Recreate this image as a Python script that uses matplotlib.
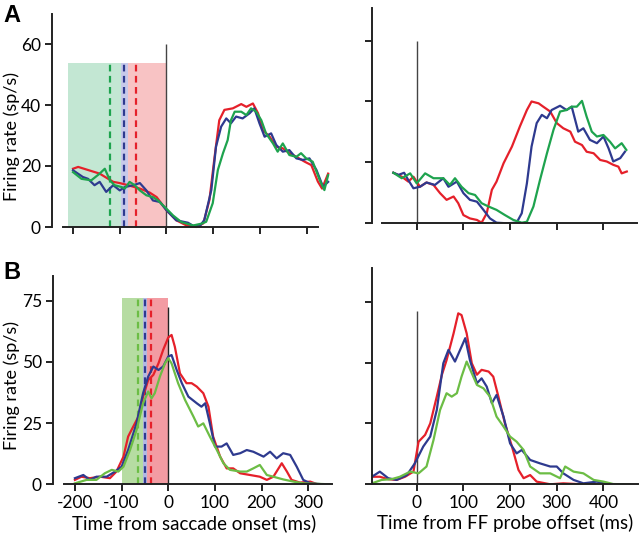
import matplotlib.pyplot as plt

plt.rcParams['font.family'] = ['Lato', 'DejaVu Sans']
plt.rcParams['axes.unicode_minus'] = False

RED = '#e5202a'
BLUE = '#2e3a8f'
GREEN_A = '#1ea34e'
GREEN_B = '#6cbd45'

# ---- panel A, aligned on saccade onset ----
a1_red_x = [-200, -189, -143, -114, -100, -82, -57, -36, -21, 0, 21, 43, 64, 79, 92, 103, 113, 124,
            142, 160, 171, 185, 196, 206, 221, 235, 249, 263, 278, 296, 310, 324, 333, 346]
a1_red_y = [19.1, 19.7, 17.5, 14.8, 14.4, 13.7, 12.6, 11.3, 9.8, 5.5, 2.2, 0.5, 0.0, 1.2, 8.9, 23, 35, 38.4,
            38.9, 40.3, 39.4, 40.5, 37.3, 31.8, 29.6, 26.3, 25.8, 24.2, 23, 21.4, 20.3, 14.9, 12.6, 17.5]
a1_blue_x = [-200, -179, -168, -154, -143, -129, -114, -100, -89, -71, -57, -43, -29, -14, 0, 21, 46, 57,
             71, 81, 96, 106, 117, 128, 138, 149, 163, 178, 188, 199, 210, 224, 235, 249, 263, 278,
             292, 306, 321, 335, 346]
a1_blue_y = [18.6, 16.4, 15.8, 13.7, 14.8, 11.5, 13.7, 12, 13.1, 13.7, 14.4, 12, 8.7, 8.2, 5.5, 2.2, 1.4, 0.4,
             0.2, 2.3, 12.1, 26.3, 32.9, 35.6, 34, 36.2, 35.6, 37.3, 38.9, 34, 29.6, 30.7, 26.9, 24.7, 25.2, 22.5,
             22, 22.5, 18.7, 13.2, 14.8]
a1_green_x = [-200, -182, -161, -143, -132, -121, -111, -96, -89, -79, -68, -57, -43, -29, -18, 0, 14, 32,
              57, 75, 85, 99, 110, 121, 131, 138, 146, 160, 171, 181, 192, 203, 213, 228, 238, 249,
              263, 278, 288, 299, 313, 328, 338, 346]
a1_green_y = [18, 15.8, 15.3, 17.5, 19.1, 15.3, 13.7, 13.1, 12.6, 14.8, 13.7, 12, 10.4, 9.8, 8.7, 6, 3.8, 1.6,
              0.5, 1.1, 1.7, 7.8, 18.7, 24.2, 28.5, 35, 37.8, 37.8, 36.7, 38.9, 37.8, 35, 30.7, 27.4, 24.7, 27.4,
              23.6, 23, 24.2, 22.5, 21.4, 15.4, 12.1, 17]

# ---- panel A, aligned on FF probe offset ----
a2_red_x = [-50, -32, -18, -7, 7, 21, 36, 50, 64, 79, 89, 100, 114, 129, 139, 150, 161, 171, 186, 204,
            221, 236, 246, 261, 271, 286, 300, 314, 329, 339, 354, 364, 379, 393, 407, 421, 432, 439, 450]
a2_red_y = [16.6, 15.3, 13.7, 15.3, 12, 13.4, 12.6, 9.9, 7.7, 8.8, 6.6, 2.7, 1.6, 1.1, 0.2, 3.3, 11, 13.7, 19.7, 25.2,
            31.8, 37.2, 40, 39.4, 38.3, 36.7, 32.9, 31.2, 30.1, 26.8, 25.7, 23.5, 23, 20.8, 20.3, 19.2, 18.6, 16.4, 17]
a2_blue_x = [-50, -39, -27, -18, -7, 7, 21, 39, 57, 68, 86, 100, 114, 129, 143, 157, 171, 193, 214, 225,
             236, 246, 257, 268, 279, 289, 307, 321, 332, 346, 357, 371, 386, 400, 411, 421, 436, 446]
a2_blue_y = [16.6, 15.9, 16.6, 14.2, 11.5, 12, 13.4, 12.6, 14.8, 12, 13.7, 9.9, 7.7, 7.1, 4.4, 1.6, 0.2, 0, 0.2, 3.3,
             13.1, 25.2, 32.9, 35.6, 34.5, 37.2, 38.6, 37.2, 38.3, 30.1, 31.2, 27.4, 26.3, 28.5, 24.6, 20.3, 21.4, 23.5]
a2_green_x = [-50, -32, -14, 0, 18, 36, 57, 71, 82, 96, 111, 125, 139, 154, 171, 189, 207, 225, 236, 250,
              264, 279, 293, 307, 321, 332, 343, 354, 364, 375, 386, 400, 414, 425, 439, 449]
a2_green_y = [16.6, 14.8, 16.4, 13.1, 16.4, 14.8, 14.8, 12.6, 14.8, 12, 9.9, 9.3, 6.6, 5.5, 4.4, 2.7, 1.1, 0.2, 0.5, 5.5,
              14.2, 23, 30.7, 36.7, 37.2, 38.3, 38.3, 40.2, 35, 30.1, 28.5, 29, 26.8, 24.6, 26.3, 24.1]

# ---- panel B, aligned on saccade onset ----
b1_red_x = [-200, -186, -168, -146, -125, -111, -96, -86, -75, -64, -54, -43, -32, -21, -11, 0, 7, 14, 25,
            39, 50, 61, 75, 86, 96, 111, 125, 139, 154, 175, 196, 211, 225, 243, 254, 264, 282, 304, 318]
b1_red_y = [1.8, 3.1, 2.5, 3.1, 2.5, 5.2, 11.3, 19.5, 23.6, 27.6, 35.8, 42.6, 44.7, 49.4, 54.9, 60, 61, 56.2, 45.3,
            41.3, 41.3, 39.9, 37.2, 31.7, 19.5, 11.3, 6.5, 6.5, 4.5, 3.8, 3.1, 1.8, 3.1, 8.6, 5.2, 1.8, 0.7, 1.1, 0.1]
b1_blue_x = [-200, -182, -168, -154, -132, -114, -100, -86, -68, -54, -43, -32, -21, -11, 0, 7, 18, 29, 43,
             61, 71, 79, 89, 100, 114, 125, 139, 154, 168, 182, 204, 218, 232, 246, 261, 275, 289, 304, 325]
b1_blue_y = [2.5, 3.8, 1.8, 3.1, 3.1, 5.2, 7.2, 14, 24.9, 37.2, 44, 48.1, 46.7, 48.1, 52.2, 52.8, 46.7, 41.3, 35.8,
             33.1, 31.7, 33.1, 24.9, 15.4, 15.4, 16.7, 12, 12.7, 14, 13.3, 11.3, 13.3, 10.6, 12.7, 12, 7.2, 1.8, 0.4, 0.1]
b1_green_x = [-200, -175, -154, -136, -121, -107, -96, -82, -68, -54, -43, -36, -29, -18, -7, 0, 7, 21, 36,
              54, 64, 75, 89, 104, 118, 132, 154, 168, 182, 196, 211, 225, 246, 268, 289, 346]
b1_green_y = [0.4, 1.8, 1.8, 4.5, 5.9, 5.2, 7.2, 14, 22.2, 33.1, 37.9, 35.1, 37.2, 44, 49.4, 51.5, 49.4, 41.3, 34.4,
              27.6, 23.6, 24.9, 19.5, 14, 8.6, 5.9, 5.2, 5.2, 6.5, 7.9, 3.8, 3.1, 2, 1.1, 0.4, 0]

# ---- panel B, aligned on FF probe offset ----
b2_red_x = [-96, -79, -61, -43, -25, -7, 4, 18, 29, 43, 54, 64, 79, 89, 96, 107, 118, 129, 139, 154, 164,
            175, 189, 204, 218, 229, 243, 257, 286, 314, 343, 386]
b2_red_y = [3.1, 3.1, 2.1, 1.8, 3.1, 5.2, 17.5, 20.3, 25, 36, 45, 51, 62, 70.2, 69.5, 62, 49.7, 45, 47, 46.3, 44.2,
            36, 25, 15.5, 5.9, 2.5, 3.8, 1.1, 0, 0.4, 0.1, 0]
b2_blue_x = [-96, -79, -61, -43, -21, -4, 14, 29, 43, 57, 68, 82, 96, 104, 114, 129, 139, 150, 161, 171,
             186, 200, 214, 225, 243, 264, 286, 300, 314, 336, 357, 386, 407, 443]
b2_blue_y = [3.1, 5.2, 2.5, 1.8, 3.8, 8.6, 15.5, 19.6, 30.5, 49.7, 55.2, 50.4, 56.5, 60, 51, 41.5, 43.5, 40.1, 33.3,
             36.7, 27.8, 16.8, 12.7, 14.1, 10, 8.6, 7.3, 7.3, 4.5, 1.8, 0.4, 1.1, 0.1, 0]
b2_green_x = [-96, -75, -54, -36, -14, 4, 21, 36, 50, 64, 75, 86, 96, 107, 118, 129, 143, 157, 171, 186,
              200, 214, 229, 243, 264, 286, 307, 318, 336, 357, 379, 400, 421, 457]
b2_green_y = [0.4, 1.8, 2.1, 3.1, 5.2, 4.5, 7.3, 18.2, 30.5, 37.4, 36, 37.4, 44.2, 50.4, 45.6, 40.8, 39.4, 36, 27.8,
              23.7, 19.6, 17.5, 14.1, 7.3, 4.5, 4.5, 2.5, 7.3, 5.2, 4.5, 1.8, 1.1, 0.1, 0]

# shaded windows before the saccade (green / blue / red boundaries) and dashed means
a_span_edges = [-211, -98, -83, 0]
a_span_top = 53.8
a_dashes = [-120, -91, -66]
b_span_edges = [-100, -54, -46, 0]
b_span_top = 76
b_dashes = [-64, -49, -37]

W, H = 640, 534
fig = plt.figure(figsize=(6.4, 5.34), dpi=100)


def make_ax(x0, x1, y_zero, y_top):
    return fig.add_axes([x0 / W, 1 - y_zero / H, (x1 - x0) / W, (y_zero - y_top) / H])


def style(ax, xlim, ylim, xbounds, xticks, yticks, xlabels, ylabels):
    ax.set_xlim(*xlim)
    ax.set_ylim(*ylim)
    for s in ['top', 'right']:
        ax.spines[s].set_visible(False)
    ax.spines['bottom'].set_bounds(*xbounds)
    for s in ['left', 'bottom']:
        ax.spines[s].set_linewidth(1.4)
        ax.spines[s].set_color('#222222')
    ax.set_xticks(xticks)
    ax.set_yticks(yticks)
    if not xlabels:
        ax.set_xticklabels([])
    if not ylabels:
        ax.set_yticklabels([])
    ax.tick_params(direction='out', length=5, width=1.4, color='#222222',
                   labelsize=12.5, pad=3)


lw = 1.6

# A left
ax = make_ax(52, 330, 227, 13.5)
style(ax, (-245, 350), (0, 70), (-222, 324), [-200, -100, 0, 100, 200, 300], [0, 20, 40, 60], False, True)
cols = ['#c3e7d3', '#c7c9ea', '#f8c3c4']
for i in range(3):
    ax.fill_between([a_span_edges[i], a_span_edges[i + 1]], 0, a_span_top, color=cols[i], lw=0, zorder=0)
for xd, c in zip(a_dashes, [GREEN_A, BLUE, RED]):
    ax.plot([xd, xd], [0, a_span_top], ls=(0, (3, 2)), color=c, lw=1.6, zorder=1)
ax.vlines(0, 0, 60, color='#444444', lw=1.0, zorder=1)
ax.plot(a1_red_x, a1_red_y, color=RED, lw=lw, clip_on=False)
ax.plot(a1_blue_x, a1_blue_y, color=BLUE, lw=lw, clip_on=False)
ax.plot(a1_green_x, a1_green_y, color=GREEN_A, lw=lw, clip_on=False)
ax.set_ylabel('Firing rate (sp/s)', fontsize=13)
ax.yaxis.set_label_coords((20 - 52) / 278, 0.426)

# A right
ax = make_ax(371.7, 638, 223.3, 8)
style(ax, (-96.4, 474), (0, 70.7), (-75, 471), [0, 100, 200, 300, 400], [0, 20, 40, 60], False, False)
ax.vlines(0, 0, 60, color='#444444', lw=1.0, zorder=1)
ax.plot(a2_red_x, a2_red_y, color=RED, lw=lw)
ax.plot(a2_blue_x, a2_blue_y, color=BLUE, lw=lw)
ax.plot(a2_green_x, a2_green_y, color=GREEN_A, lw=lw)

# B left
ax = make_ax(53, 335, 484.3, 276.2)
style(ax, (-246.9, 357), (0, 85), (-224, 350), [-200, -100, 0, 100, 200, 300], [0, 25, 50, 75], True, True)
cols = ['#b6dca2', '#b3b8e2', '#f39ca3']
for i in range(3):
    ax.fill_between([b_span_edges[i], b_span_edges[i + 1]], 0, b_span_top, color=cols[i], lw=0, zorder=0)
for xd, c in zip(b_dashes, [GREEN_B, BLUE, RED]):
    ax.plot([xd, xd], [0, b_span_top], ls=(0, (3, 2)), color=c, lw=1.6, zorder=1)
ax.vlines(0, 0, 72.5, color='#222222', lw=1.0, zorder=1)
ax.plot(b1_red_x, b1_red_y, color=RED, lw=lw)
ax.plot(b1_blue_x, b1_blue_y, color=BLUE, lw=lw)
ax.plot(b1_green_x, b1_green_y, color=GREEN_B, lw=lw)
ax.set_ylabel('Firing rate (sp/s)', fontsize=13)
ax.yaxis.set_label_coords((20 - 53) / 282, 0.477)
ax.set_xlabel('Time from saccade onset (ms)', fontsize=13.5, labelpad=2)

# B right
ax = make_ax(371.7, 638, 484.3, 268.3)
style(ax, (-96.4, 474), (0, 88.7), (-96.4, 474), [0, 100, 200, 300, 400], [0, 25, 50, 75], True, False)
ax.vlines(0, 0, 71, color='#444444', lw=1.0, zorder=1)
ax.plot(b2_red_x, b2_red_y, color=RED, lw=lw)
ax.plot(b2_blue_x, b2_blue_y, color=BLUE, lw=lw)
ax.plot(b2_green_x, b2_green_y, color=GREEN_B, lw=lw)
ax.set_xlabel('Time from FF probe offset (ms)', fontsize=13.5, labelpad=2)

fig.text(3 / W, 1 - 4 / H, 'A', fontsize=17, fontweight='bold', va='top', ha='left',
         family=['Liberation Sans', 'DejaVu Sans'])
fig.text(3 / W, 1 - 261 / H, 'B', fontsize=17, fontweight='bold', va='top', ha='left',
         family=['Liberation Sans', 'DejaVu Sans'])

fig.savefig('out.png', dpi=100)
